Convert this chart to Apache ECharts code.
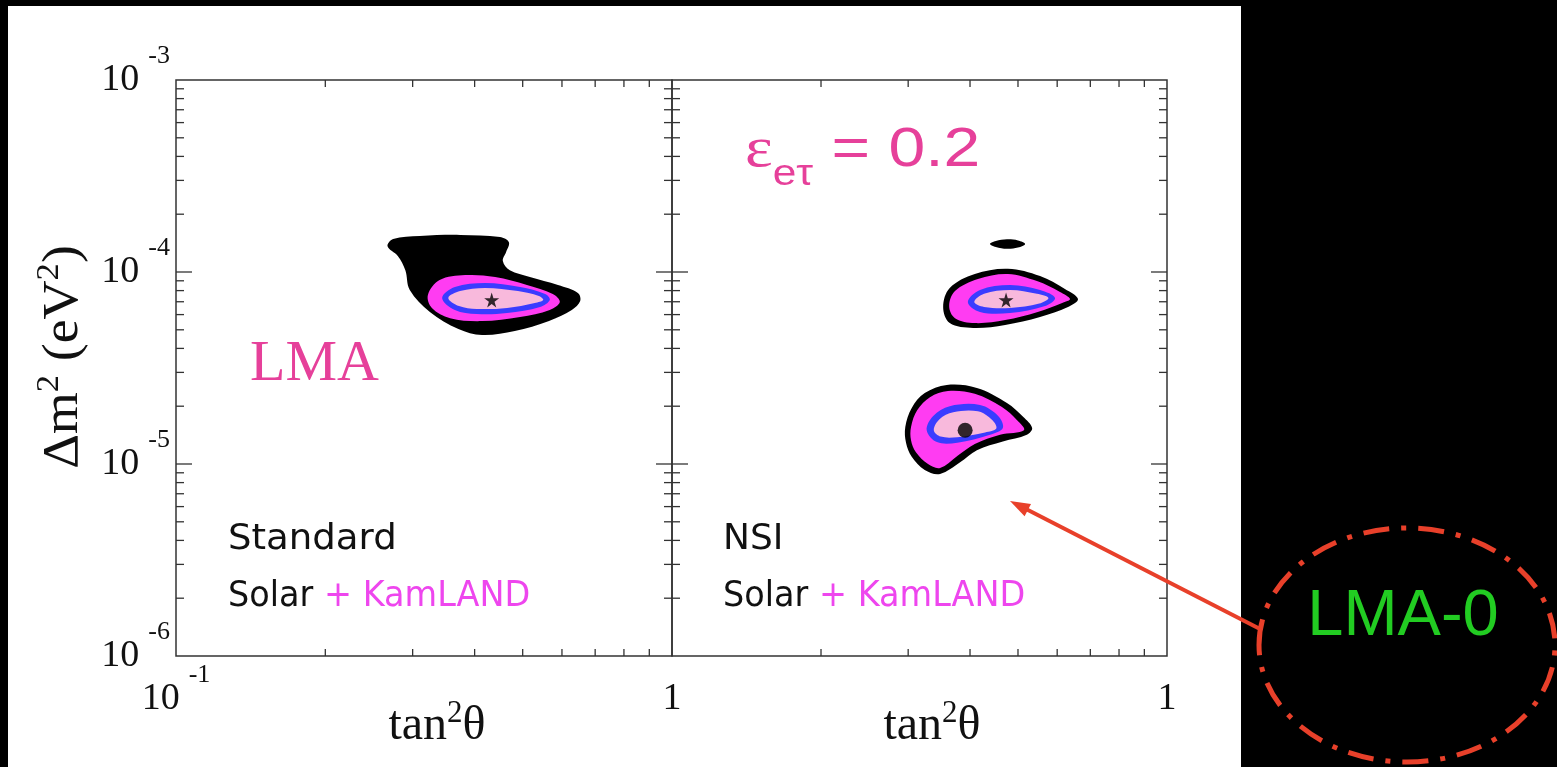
<!DOCTYPE html>
<html><head><meta charset="utf-8">
<script src="https://cdn.jsdelivr.net/npm/echarts@6/dist/echarts.min.js"></script>
<style>html,body{margin:0;padding:0;background:#000;}#c{width:1557px;height:767px;}</style>
</head><body><div id="c"></div>
<script>
// ---------- axes ----------
const xRange = [0.1, 1];
const yRange = [1e-6, 1e-3];
const xTickValues = [0.1, 1];
const xTickBase = ['10', '1'];
const xTickSup = ['-1', ''];
const yTickValues = [1e-6, 1e-5, 1e-4, 1e-3];
const yTickBase = ['10', '10', '10', '10'];
const yTickSup = ['-6', '-5', '-4', '-3'];
const xMinorTicks = [0.2, 0.3, 0.4, 0.5, 0.6, 0.7, 0.8, 0.9];
const yMajorTicks = [1e-5, 1e-4];
const yMinorTicks = [2e-6, 3e-6, 4e-6, 5e-6, 6e-6, 7e-6, 8e-6, 9e-6,
                     2e-5, 3e-5, 4e-5, 5e-5, 6e-5, 7e-5, 8e-5, 9e-5,
                     2e-4, 3e-4, 4e-4, 5e-4, 6e-4, 7e-4, 8e-4, 9e-4];

// ---------- contours: [tan^2 theta, dm^2 (eV^2)] ----------
// Standard (left panel)
const leftBlack = [[0.267,1.36e-4],[0.274,1.486e-4],[0.310,1.54e-4],[0.374,1.56e-4],[0.450,1.52e-4],[0.469,1.43e-4],
  [0.463,1.27e-4],[0.456,1.14e-4],[0.471,1.02e-4],[0.517,9.42e-5],[0.589,8.56e-5],[0.646,7.78e-5],[0.653,7.06e-5],
  [0.628,6.34e-5],[0.565,5.56e-5],[0.482,4.93e-5],[0.414,4.70e-5],[0.371,5.05e-5],[0.325,6.19e-5],[0.296,8.06e-5],
  [0.290,1.02e-4],[0.280,1.21e-4]];
const leftMagenta = [[0.322,7.59e-5],[0.340,9.08e-5],[0.383,9.64e-5],[0.440,9.42e-5],[0.510,8.56e-5],[0.575,7.68e-5],
  [0.594,6.98e-5],[0.567,6.34e-5],[0.494,5.83e-5],[0.414,5.55e-5],[0.357,5.75e-5],[0.328,6.50e-5]];
const leftBlue = [[0.344,7.33e-5],[0.365,8.36e-5],[0.420,8.77e-5],[0.494,8.36e-5],[0.555,7.68e-5],[0.567,7.15e-5],
  [0.542,6.57e-5],[0.465,6.11e-5],[0.404,6.04e-5],[0.365,6.34e-5]];
const leftPink = [[0.354,7.33e-5],[0.374,7.96e-5],[0.420,8.26e-5],[0.489,7.96e-5],[0.539,7.50e-5],[0.550,7.15e-5],
  [0.529,6.90e-5],[0.465,6.50e-5],[0.404,6.42e-5],[0.372,6.65e-5]];
const leftBest = [[0.433, 7.15e-5]];

// NSI (right panel)
const rightIsland = [[0.439,1.40e-4],[0.451,1.45e-4],[0.475,1.48e-4],[0.500,1.46e-4],[0.517,1.40e-4],[0.500,1.34e-4],
  [0.475,1.32e-4],[0.451,1.35e-4]];
const rightUpBlack = [[0.353,6.57e-5],[0.364,8.26e-5],[0.409,9.77e-5],[0.477,1.04e-4],[0.554,9.53e-5],[0.622,8.16e-5],
  [0.661,7.23e-5],[0.631,6.57e-5],[0.554,5.83e-5],[0.471,5.30e-5],[0.406,5.11e-5],[0.364,5.42e-5]];
const rightUpMagenta = [[0.363,6.65e-5],[0.373,7.96e-5],[0.415,9.20e-5],[0.477,9.77e-5],[0.546,8.97e-5],[0.608,7.87e-5],
  [0.637,7.23e-5],[0.614,6.90e-5],[0.548,6.19e-5],[0.471,5.62e-5],[0.409,5.42e-5],[0.373,5.75e-5]];
const rightUpBlue = [[0.396,6.98e-5],[0.419,8.06e-5],[0.482,8.56e-5],[0.554,8.06e-5],[0.594,7.33e-5],[0.567,6.65e-5],
  [0.482,6.11e-5],[0.419,6.19e-5]];
const rightUpPink = [[0.408,6.98e-5],[0.427,7.70e-5],[0.482,8.06e-5],[0.546,7.70e-5],[0.576,7.33e-5],[0.552,6.85e-5],
  [0.482,6.50e-5],[0.427,6.58e-5]];
const rightLowBlack = [[0.296,1.56e-5],[0.305,1.96e-5],[0.324,2.34e-5],[0.359,2.58e-5],[0.413,2.49e-5],[0.475,2.08e-5],
  [0.512,1.76e-5],[0.534,1.54e-5],[0.521,1.42e-5],[0.466,1.31e-5],[0.413,1.18e-5],[0.382,1.02e-5],[0.348,8.88e-6],
  [0.324,9.31e-6],[0.305,1.09e-5],[0.297,1.29e-5]];
const rightLowMagenta = [[0.304,1.56e-5],[0.313,1.91e-5],[0.332,2.23e-5],[0.361,2.40e-5],[0.409,2.32e-5],[0.464,1.98e-5],
  [0.498,1.69e-5],[0.514,1.50e-5],[0.460,1.42e-5],[0.409,1.27e-5],[0.377,1.10e-5],[0.348,9.53e-6],[0.329,1.0e-5],
  [0.311,1.15e-5],[0.304,1.33e-5]];
const rightLowBlue = [[0.327,1.50e-5],[0.337,1.78e-5],[0.364,2.00e-5],[0.419,2.03e-5],[0.456,1.78e-5],[0.466,1.54e-5],
  [0.439,1.42e-5],[0.377,1.29e-5],[0.343,1.30e-5]];
const rightLowPink = [[0.338,1.50e-5],[0.347,1.71e-5],[0.370,1.86e-5],[0.415,1.88e-5],[0.444,1.69e-5],[0.452,1.53e-5],
  [0.429,1.46e-5],[0.377,1.38e-5],[0.349,1.39e-5]];
const rightBest = [[0.473, 7.15e-5]];
const rightLocalBest = [[0.391, 1.50e-5]];

// ---------- colours ----------
const C_BLACK = '#000000', C_MAG = '#ff3cf2', C_BLUE = '#3a3cff', C_PINK = '#f8b9dc';

function idxOf(vals, v) {
  for (let i = 0; i < vals.length; i++) if (Math.abs(Math.log10(v) - Math.log10(vals[i])) < 1e-6) return i;
  return -1;
}
const labRich = {
  a: {fontFamily: '"Liberation Serif"', fontSize: 38, color: '#111', lineHeight: 74, verticalAlign: 'middle'},
  b: {fontFamily: '"Liberation Serif"', fontSize: 26, color: '#111', lineHeight: 24, verticalAlign: 'top', padding: [0, 0, 0, 9]}
};
function xFmt(showMin) {
  return function (v) {
    const i = idxOf(xTickValues, v);
    if (i < 0 || (!showMin && i === 0)) return '';
    return '{a|' + xTickBase[i] + '}' + (xTickSup[i] ? '{b|' + xTickSup[i] + '}' : '');
  };
}
function yFmt(v) {
  const i = idxOf(yTickValues, v);
  if (i < 0) return '';
  return '{a|' + yTickBase[i] + '}{b|' + yTickSup[i] + '}';
}

function polySeries(gi, pts, color, z) {
  return {
    type: 'custom', xAxisIndex: gi, yAxisIndex: gi, z: z, silent: true, data: pts,
    renderItem: function (params, api) {
      if (params.dataIndex !== 0) return null;
      return {type: 'polygon', shape: {points: pts.map(p => api.coord(p)), smooth: 0.35},
              style: {fill: color}};
    }
  };
}
function tickData() {
  const d = [];
  xMinorTicks.forEach(v => d.push([v, yRange[0], 0]));
  yMinorTicks.forEach(v => d.push([xRange[0], v, 1]));
  yMajorTicks.forEach(v => d.push([xRange[0], v, 2]));
  return d;
}
function tickSeries(gi) {
  return {
    type: 'custom', xAxisIndex: gi, yAxisIndex: gi, z: 8, silent: true, data: tickData(),
    renderItem: function (params, api) {
      const cs = params.coordSys;
      const kind = api.value(2);
      const p = api.coord([api.value(0), api.value(1)]);
      const st = {stroke: '#333', lineWidth: 1.3};
      if (kind === 0) {
        const x = p[0];
        return {type: 'group', children: [
          {type: 'line', shape: {x1: x, y1: cs.y, x2: x, y2: cs.y + 7}, style: st},
          {type: 'line', shape: {x1: x, y1: cs.y + cs.height, x2: x, y2: cs.y + cs.height - 7}, style: st}]};
      }
      const len = kind === 2 ? 16 : 8;
      const y = p[1];
      return {type: 'group', children: [
        {type: 'line', shape: {x1: cs.x, y1: y, x2: cs.x + len, y2: y}, style: st},
        {type: 'line', shape: {x1: cs.x + cs.width, y1: y, x2: cs.x + cs.width - len, y2: y}, style: st}]};
    }
  };
}
const starPath = 'path://M50,0 L61,35 L98,35 L68,57 L79,91 L50,70 L21,91 L32,57 L2,35 L39,35 Z';

function xAxisCfg(gi, showMin) {
  return {gridIndex: gi, type: 'log', logBase: 10, min: xRange[0], max: xRange[1],
    axisLine: {show: false}, axisTick: {show: false}, splitLine: {show: false},
    axisLabel: {show: true, margin: 6, formatter: xFmt(showMin), rich: labRich, showMinLabel: showMin}};
}
function yAxisCfg(gi, show) {
  return {gridIndex: gi, type: 'log', logBase: 10, min: yRange[0], max: yRange[1],
    axisLine: {show: false}, axisTick: {show: false}, splitLine: {show: false},
    axisLabel: {show: show, margin: 6, formatter: yFmt, rich: labRich}};
}

const serifT = {fontFamily: '"Liberation Serif"', fontSize: 48, fill: '#111', lineHeight: 56, verticalAlign: 'middle'};
const serifS = {fontFamily: '"Liberation Serif"', fontSize: 31, fill: '#111', lineHeight: 20, verticalAlign: 'top'};
const pinkText = '#e6409a', kamText = '#ee46ee';

const option = {
  backgroundColor: '#000',
  animation: false,
  grid: [
    {left: 176, top: 80, width: 496, height: 576, show: true, borderColor: '#333', borderWidth: 1.5, backgroundColor: 'transparent'},
    {left: 672, top: 80, width: 495, height: 576, show: true, borderColor: '#333', borderWidth: 1.5, backgroundColor: 'transparent'}
  ],
  xAxis: [xAxisCfg(0, true), xAxisCfg(1, false)],
  yAxis: [yAxisCfg(0, true), yAxisCfg(1, false)],
  series: [
    polySeries(0, leftBlack, C_BLACK, 2),
    polySeries(0, leftMagenta, C_MAG, 3),
    polySeries(0, leftBlue, C_BLUE, 4),
    polySeries(0, leftPink, C_PINK, 5),
    polySeries(1, rightIsland, C_BLACK, 2),
    polySeries(1, rightUpBlack, C_BLACK, 2),
    polySeries(1, rightUpMagenta, C_MAG, 3),
    polySeries(1, rightUpBlue, C_BLUE, 4),
    polySeries(1, rightUpPink, C_PINK, 5),
    polySeries(1, rightLowBlack, C_BLACK, 2),
    polySeries(1, rightLowMagenta, C_MAG, 3),
    polySeries(1, rightLowBlue, C_BLUE, 4),
    polySeries(1, rightLowPink, C_PINK, 5),
    {type: 'scatter', xAxisIndex: 0, yAxisIndex: 0, z: 7, silent: true, data: leftBest, symbol: starPath, symbolSize: 15, itemStyle: {color: '#000'}},
    {type: 'scatter', xAxisIndex: 1, yAxisIndex: 1, z: 7, silent: true, data: rightBest, symbol: starPath, symbolSize: 15, itemStyle: {color: '#000'}},
    {type: 'scatter', xAxisIndex: 1, yAxisIndex: 1, z: 7, silent: true, data: rightLocalBest, symbol: 'circle', symbolSize: 15, itemStyle: {color: '#000'}},
    tickSeries(0), tickSeries(1)
  ],
  graphic: [
    {type: 'rect', z: -100, silent: true, shape: {x: 8, y: 6, width: 1233, height: 761}, style: {fill: '#fff'}},
    // axis titles
    {type: 'text', z: 100, x: 437, y: 726, silent: true, style: {text: '{t|tan}{s|2}{t|θ}', align: 'center', verticalAlign: 'middle', textAlign: 'center', textVerticalAlign: 'middle', rich: {t: serifT, s: serifS}}},
    {type: 'text', z: 100, x: 932, y: 726, silent: true, style: {text: '{t|tan}{s|2}{t|θ}', align: 'center', verticalAlign: 'middle', textAlign: 'center', textVerticalAlign: 'middle', rich: {t: serifT, s: serifS}}},
    {type: 'text', z: 100, x: 64, y: 357, rotation: Math.PI / 2, scaleX: 1.08, silent: true,
      style: {text: '{t|Δm}{s|2}{t| (eV}{s|2}{t|)}', align: 'center', verticalAlign: 'middle', textAlign: 'center', textVerticalAlign: 'middle',
        rich: {t: {fontFamily: '"Liberation Serif"', fontSize: 50, fill: '#111', lineHeight: 60, verticalAlign: 'middle'},
               s: {fontFamily: '"Liberation Serif"', fontSize: 32, fill: '#111', lineHeight: 22, verticalAlign: 'top'}}}},
    // annotations
    {type: 'text', z: 100, x: 250, y: 365, silent: true, style: {text: 'LMA', font: '58px "Liberation Serif"', fill: pinkText, align: 'left', verticalAlign: 'middle', textAlign: 'left', textVerticalAlign: 'middle'}},
    {type: 'text', z: 100, x: 745, y: 151, scaleX: 1.18, silent: true,
      style: {text: '{e|ε}{s|eτ}{m| = 0.2}', align: 'left', verticalAlign: 'middle', textAlign: 'left', textVerticalAlign: 'middle',
        rich: {e: {fontFamily: '"Liberation Serif"', fontSize: 56, fill: pinkText, lineHeight: 84, verticalAlign: 'middle'},
               s: {fontFamily: '"Liberation Sans"', fontSize: 36, fill: pinkText, lineHeight: 36, verticalAlign: 'bottom'},
               m: {fontFamily: '"Liberation Sans"', fontSize: 56, fill: pinkText, lineHeight: 84, verticalAlign: 'middle'}}}},
    {type: 'text', z: 100, x: 228, y: 540, scaleX: 1.03, silent: true, style: {text: 'Standard', font: '36px "DejaVu Sans"', fill: '#111', align: 'left', verticalAlign: 'middle', textAlign: 'left', textVerticalAlign: 'middle'}},
    {type: 'text', z: 100, x: 228, y: 597, scaleX: 0.93, silent: true,
      style: {text: '{k|Solar }{m|+ KamLAND}', align: 'left', verticalAlign: 'middle', textAlign: 'left', textVerticalAlign: 'middle',
        rich: {k: {fontFamily: '"DejaVu Sans"', fontSize: 36, fill: '#111'}, m: {fontFamily: '"DejaVu Sans"', fontSize: 36, fill: kamText}}}},
    {type: 'text', z: 100, x: 723, y: 540, silent: true, style: {text: 'NSI', font: '36px "DejaVu Sans"', fill: '#111', align: 'left', verticalAlign: 'middle', textAlign: 'left', textVerticalAlign: 'middle'}},
    {type: 'text', z: 100, x: 723, y: 597, scaleX: 0.93, silent: true,
      style: {text: '{k|Solar }{m|+ KamLAND}', align: 'left', verticalAlign: 'middle', textAlign: 'left', textVerticalAlign: 'middle',
        rich: {k: {fontFamily: '"DejaVu Sans"', fontSize: 36, fill: '#111'}, m: {fontFamily: '"DejaVu Sans"', fontSize: 36, fill: kamText}}}},
    // arrow and LMA-0 callout
    {type: 'line', z: 100, silent: true, shape: {x1: 1262, y1: 630, x2: 1026, y2: 509}, style: {stroke: '#e8402a', lineWidth: 4}},
    {type: 'polygon', z: 100, silent: true, shape: {points: [[1010, 501], [1031, 504], [1024.6, 516.3]]}, style: {fill: '#e8402a'}},
    {type: 'ellipse', z: 100, silent: true, shape: {cx: 1407, cy: 645, rx: 148, ry: 117}, style: {fill: 'transparent', stroke: '#e8402a', lineWidth: 5, lineDash: [26, 12, 5, 12]}},
    {type: 'text', z: 100, x: 1403, y: 617, silent: true, style: {text: 'LMA-0', font: '65px "Liberation Sans"', fill: '#22cc22', align: 'center', verticalAlign: 'middle', textAlign: 'center', textVerticalAlign: 'middle'}}
  ]
};
const chart = echarts.init(document.getElementById('c'), null, {renderer: 'canvas'});
chart.setOption(option);
</script>
</body></html>
